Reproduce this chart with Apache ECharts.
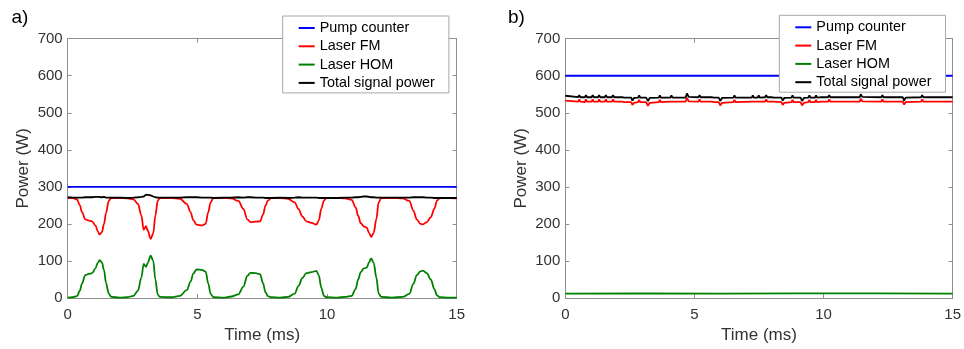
<!DOCTYPE html>
<html>
<head>
<meta charset="utf-8">
<script src="https://cdn.jsdelivr.net/npm/echarts@6/dist/echarts.min.js"></script>
<style>
  html, body { margin: 0; padding: 0; background: #fff; }
  #chart { width: 964px; height: 349px; }
</style>
</head>
<body>
<div id="chart"></div>
<script>
// Series names shown in both legends
const seriesNames = ['Pump counter', 'Laser FM', 'Laser HOM', 'Total signal power'];

// Axis ticks (shared by both panels)
const timeTicks = [0, 5, 10, 15];
const powerTicks = [0, 100, 200, 300, 400, 500, 600, 700];

// ---- Panel a) : mode instability regime ----
const timeA = [0, 0.2, 0.36, 0.47, 0.55, 0.68, 0.81, 0.94, 1.07, 1.16, 1.23, 1.32, 1.4, 1.48, 1.58, 1.68,
  2.0, 2.3, 2.54, 2.71, 2.84, 2.93, 3.02, 3.08, 3.2, 3.3, 3.38, 3.47, 3.55,
  4.0, 4.33, 4.59, 4.74, 4.84, 4.97, 5.17, 5.32, 5.42, 5.51, 5.62,
  6.0, 6.32, 6.58, 6.77, 6.93, 7.05, 7.25, 7.42, 7.53, 7.63, 7.72, 7.85,
  8.2, 8.5, 8.75, 8.9, 9.05, 9.2, 9.4, 9.59, 9.68, 9.78, 9.88, 9.97,
  10.4, 10.7, 10.95, 11.1, 11.2, 11.3, 11.42, 11.53, 11.62, 11.7, 11.8, 11.9, 11.99, 12.09,
  12.5, 12.92, 13.17, 13.33, 13.46, 13.6, 13.7, 13.85, 14.0, 14.14, 14.24, 14.35, 14.7, 15.0];
const fmA = [270, 270, 266, 250, 232, 212, 209, 207, 196, 180, 171, 178, 200, 230, 262, 270,
  270, 269, 266, 254, 223, 184, 194, 183, 160, 175, 222, 262, 270,
  270, 268, 254, 232, 210, 198, 196, 200, 232, 258, 270,
  270, 269, 262, 241, 212, 205, 206, 207, 225, 250, 263, 270,
  270, 268, 258, 240, 220, 207, 203, 198, 209, 241, 263, 270,
  270, 269, 265, 245, 222, 202, 193, 190, 176, 165, 176, 212, 258, 270,
  270, 269, 262, 236, 212, 200, 199, 205, 218, 241, 263, 270, 270, 269];
const homA = [1, 2, 5, 20, 39, 62, 65, 67, 80, 95, 102, 96, 75, 40, 12, 3,
  1, 2, 6, 20, 55, 92, 84, 94, 114, 100, 50, 10, 3,
  2, 6, 21, 44, 66, 77, 76, 71, 39, 11, 2,
  1, 4, 10, 30, 60, 68, 67, 64, 40, 15, 5, 2,
  1, 3, 12, 33, 54, 67, 70, 73, 62, 28, 6, 2,
  1, 3, 6, 24, 50, 70, 80, 82, 96, 107, 95, 56, 12, 3,
  1, 3, 11, 38, 62, 72, 74, 67, 50, 24, 7, 2, 1, 1];
const totalA = [272, 271, 271, 271, 271, 272, 272, 272, 273, 273, 272, 272, 273, 271, 271, 271,
  271, 270, 271, 272, 273, 274, 279, 280, 277, 274, 272, 271, 271,
  271, 271, 272, 272, 272, 272, 271, 271, 271, 271, 270,
  271, 271, 272, 271, 272, 272, 271, 271, 271, 270, 270, 270,
  271, 270, 271, 272, 271, 271, 271, 271, 270, 270, 270, 270,
  270, 271, 271, 272, 272, 273, 274, 274, 273, 272, 272, 271, 271, 271,
  271, 271, 271, 272, 272, 272, 272, 271, 271, 270, 270, 270, 270, 270];
const pumpA = [300, 300];
const pumpTimeA = [0, 15];

// ---- Panel b) : stable regime ----
const timeB = [0, 0.5, 0.54, 0.58, 0.76, 0.8, 0.84, 1.02, 1.06, 1.1, 1.27, 1.31, 1.35, 1.53, 1.57, 1.61,
  1.81, 1.85, 1.89, 2.01, 2.05, 2.09, 2.2, 2.24, 2.28, 2.55, 2.6, 2.66, 2.82, 2.86, 2.9,
  3.13, 3.2, 3.27, 3.62, 3.66, 3.7, 4.07, 4.11, 4.15, 4.66, 4.71, 4.78, 5.16, 5.2, 5.24,
  5.67, 5.71, 5.75, 5.94, 6.0, 6.07, 6.51, 6.55, 6.59, 7.22, 7.26, 7.3, 7.45, 7.49, 7.53,
  7.74, 7.78, 7.82, 7.99, 8.03, 8.07, 8.37, 8.42, 8.48, 8.76, 8.8, 8.84, 9.11, 9.17, 9.24,
  9.41, 9.45, 9.49, 9.67, 9.71, 9.75, 9.92, 9.96, 10.0, 10.18, 10.22, 10.26, 10.69, 10.73, 10.77,
  10.95, 10.99, 11.03, 11.21, 11.25, 11.29, 11.4, 11.44, 11.5, 12.24, 12.28, 12.32,
  13.07, 13.12, 13.18, 13.78, 13.82, 13.86, 14.43, 14.47, 14.51, 14.69, 14.73, 14.77, 15.0];
const totalB = [546, 542, 548, 542, 542, 548, 542, 542, 548, 542, 542, 548, 542, 542, 548, 542,
  542, 548, 542, 542, 547, 542, 542, 547, 541, 541, 533, 540, 541, 547, 541,
  541, 532, 540, 541, 547, 541, 541, 547, 541, 541, 552, 543, 542, 548, 542,
  542, 547, 541, 541, 532, 540, 541, 547, 541, 541, 547, 541, 541, 547, 541,
  542, 548, 542, 542, 547, 541, 541, 533, 540, 541, 547, 541, 541, 532, 540,
  541, 547, 541, 541, 547, 541, 542, 547, 542, 542, 548, 542, 542, 547, 542,
  542, 547, 542, 542, 547, 542, 542, 550, 543, 542, 548, 542,
  542, 533, 541, 542, 548, 542, 542, 547, 542, 542, 547, 542, 542];
const fmB = [533, 530, 536, 530, 529, 536, 530, 530, 536, 530, 530, 536, 530, 530, 536, 530,
  530, 536, 530, 530, 535, 530, 530, 535, 529, 529, 521, 527, 529, 535, 529,
  529, 519, 527, 529, 535, 529, 530, 535, 530, 530, 540, 531, 530, 536, 530,
  530, 535, 529, 529, 520, 527, 529, 535, 529, 530, 535, 530, 530, 535, 530,
  530, 536, 530, 530, 535, 530, 529, 521, 527, 529, 535, 529, 529, 520, 527,
  529, 535, 529, 529, 535, 529, 530, 535, 530, 530, 536, 530, 530, 535, 530,
  530, 535, 530, 530, 535, 530, 530, 538, 531, 530, 536, 530,
  530, 522, 529, 530, 536, 530, 530, 535, 530, 530, 535, 530, 530];
const homTimeB = [0, 3, 6, 9, 12, 15];
const homB = [12, 12.5, 12, 12.5, 12.5, 12];
const pumpB = [600, 600];
const pumpTimeB = [0, 15];

// ---- styling ----
const FONT = 'Liberation Sans, Arial, Helvetica, sans-serif';
const AXIS_GRAY = '#8f8f8f';
const LABEL_GRAY = '#333333';
const COLORS = { pump: '#0000ff', fm: '#ff0000', hom: '#008000', total: '#000000' };

function zip(xs, ys) { return xs.map((x, i) => [x, ys[i]]); }

function mainX(gridIndex) {
  return {
    type: 'value', gridIndex, min: timeTicks[0], max: timeTicks[timeTicks.length - 1],
    interval: timeTicks[1] - timeTicks[0],
    name: 'Time (ms)', nameLocation: 'middle', nameGap: 29,
    nameTextStyle: { fontFamily: FONT, fontSize: 17, color: LABEL_GRAY },
    axisLine: { show: true, onZero: false, lineStyle: { color: AXIS_GRAY, width: 1 } },
    axisTick: { show: true, inside: true, length: 4, lineStyle: { color: AXIS_GRAY } },
    axisLabel: { fontFamily: FONT, fontSize: 15, color: LABEL_GRAY, margin: 9 },
    splitLine: { show: false }
  };
}
function mirrorX(gridIndex) {
  return {
    type: 'value', gridIndex, position: 'top', min: timeTicks[0], max: timeTicks[timeTicks.length - 1],
    interval: timeTicks[1] - timeTicks[0],
    axisLine: { show: true, onZero: false, lineStyle: { color: AXIS_GRAY, width: 1 } },
    axisTick: { show: true, inside: true, length: 4, lineStyle: { color: AXIS_GRAY } },
    axisLabel: { show: false }, splitLine: { show: false }
  };
}
function mainY(gridIndex, gap) {
  return {
    type: 'value', gridIndex, min: powerTicks[0], max: powerTicks[powerTicks.length - 1],
    interval: powerTicks[1] - powerTicks[0],
    name: 'Power (W)', nameLocation: 'middle', nameGap: gap,
    nameTextStyle: { fontFamily: FONT, fontSize: 17, color: LABEL_GRAY },
    axisLine: { show: true, onZero: false, lineStyle: { color: AXIS_GRAY, width: 1 } },
    axisTick: { show: true, inside: true, length: 4, lineStyle: { color: AXIS_GRAY } },
    axisLabel: { fontFamily: FONT, fontSize: 15, color: LABEL_GRAY, margin: 5 },
    splitLine: { show: false }
  };
}
function mirrorY(gridIndex) {
  return {
    type: 'value', gridIndex, position: 'right', min: powerTicks[0], max: powerTicks[powerTicks.length - 1],
    interval: powerTicks[1] - powerTicks[0],
    axisLine: { show: true, onZero: false, lineStyle: { color: AXIS_GRAY, width: 1 } },
    axisTick: { show: true, inside: true, length: 4, lineStyle: { color: AXIS_GRAY } },
    axisLabel: { show: false }, splitLine: { show: false }
  };
}
function line(name, data, color, xi, yi, smooth) {
  return {
    type: 'line', name, data, xAxisIndex: xi, yAxisIndex: yi,
    symbol: 'none', showSymbol: false, animation: false,
    smooth: smooth ? 0.35 : false, smoothMonotone: 'x',
    lineStyle: { color, width: 1.8 }, itemStyle: { color }, z: 3
  };
}
function legendAt(left, top) {
  return {
    orient: 'vertical', left, top,
    data: seriesNames.map(n => ({ name: n, icon: 'rect' })),
    itemWidth: 16, itemHeight: 2, itemGap: 4.3,
    padding: [5, 14, 3, 16],
    backgroundColor: '#ffffff', borderColor: '#a8a8a8', borderWidth: 1,
    textStyle: { fontFamily: FONT, fontSize: 14.4, color: '#000000' },
    selectedMode: false, z: 10
  };
}

const chart = echarts.init(document.getElementById('chart'), null, { renderer: 'canvas' });
chart.setOption({
  backgroundColor: '#ffffff',
  animation: false,
  textStyle: { fontFamily: FONT },
  title: [
    { text: 'a)', left: 6.5, top: 3, textStyle: { fontFamily: FONT, fontSize: 19, fontWeight: 'normal', color: '#000' } },
    { text: 'b)', left: 503, top: 3, textStyle: { fontFamily: FONT, fontSize: 19, fontWeight: 'normal', color: '#000' } }
  ],
  grid: [
    { left: 67.7, top: 38.7, width: 389, height: 261, containLabel: false },
    { left: 565.3, top: 38.7, width: 388.7, height: 261, containLabel: false }
  ],
  xAxis: [mainX(0), mirrorX(0), mainX(1), mirrorX(1)],
  yAxis: [mainY(0, 36), mirrorY(0), mainY(1, 35), mirrorY(1)],
  legend: [legendAt(282.7, 16), legendAt(779.3, 15.3)],
  series: [
    line('Pump counter', zip(pumpTimeA, pumpA), COLORS.pump, 0, 0, false),
    line('Laser FM', zip(timeA, fmA), COLORS.fm, 0, 0, true),
    line('Laser HOM', zip(timeA, homA), COLORS.hom, 0, 0, true),
    line('Total signal power', zip(timeA, totalA), COLORS.total, 0, 0, false),
    line('Pump counter', zip(pumpTimeB, pumpB), COLORS.pump, 2, 2, false),
    line('Laser FM', zip(timeB, fmB), COLORS.fm, 2, 2, false),
    line('Laser HOM', zip(homTimeB, homB), COLORS.hom, 2, 2, false),
    line('Total signal power', zip(timeB, totalB), COLORS.total, 2, 2, false)
  ]
});
</script>
</body>
</html>
